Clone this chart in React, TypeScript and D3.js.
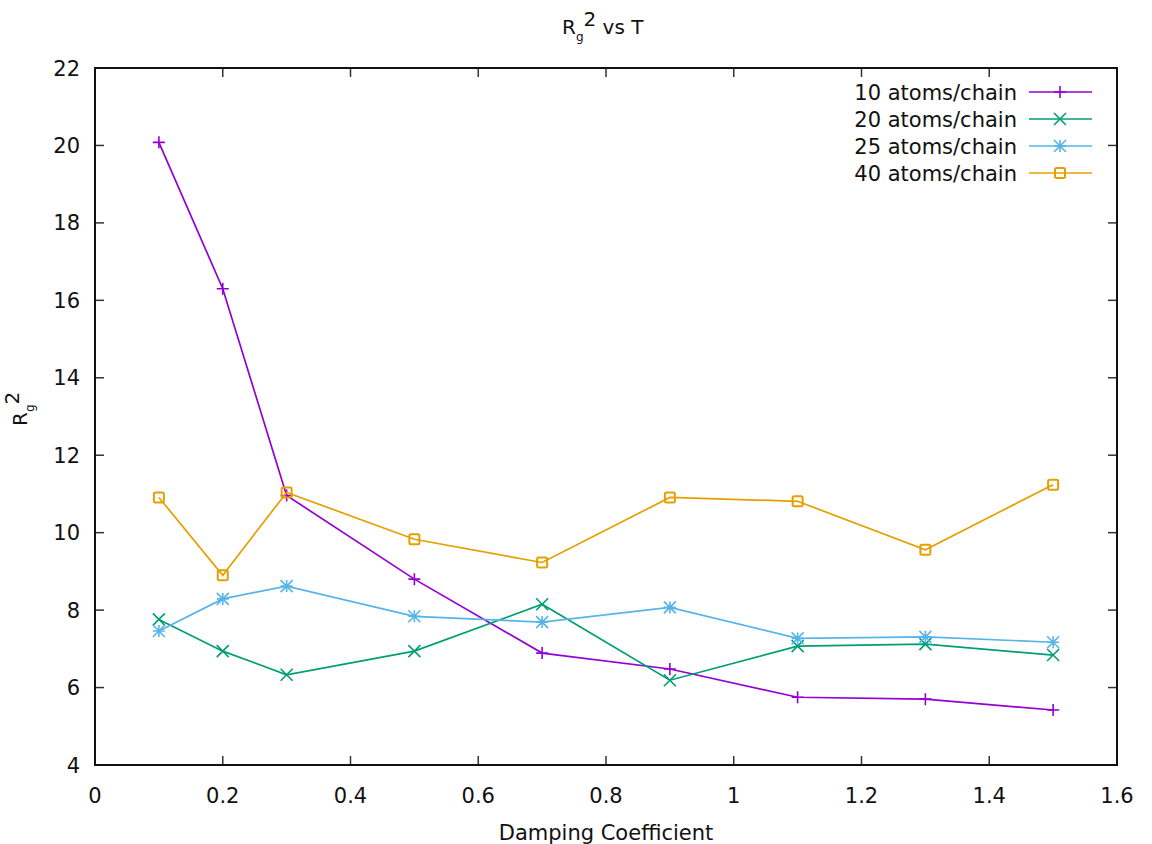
import React from "react";
import * as d3 from "d3";

const xValues = [0.1, 0.2, 0.3, 0.5, 0.7, 0.9, 1.1, 1.3, 1.5];
const series10 = [20.08, 16.3, 10.96, 8.8, 6.89, 6.48, 5.75, 5.7, 5.42];
const series20 = [7.76, 6.94, 6.33, 6.94, 8.15, 6.19, 7.07, 7.12, 6.84];
const series25 = [7.46, 8.29, 8.62, 7.84, 7.69, 8.07, 7.27, 7.31, 7.17];
const series40 = [10.91, 8.9, 11.04, 9.83, 9.23, 10.91, 10.81, 9.56, 11.24];
const seriesNames = ["10 atoms/chain", "20 atoms/chain", "25 atoms/chain", "40 atoms/chain"];
const seriesColors = ["#9400d3", "#009e73", "#56b4e9", "#e69f00"];
const xTicks = [0, 0.2, 0.4, 0.6, 0.8, 1, 1.2, 1.4, 1.6];
const yTicks = [4, 6, 8, 10, 12, 14, 16, 18, 20, 22];

const W = 1152, H = 844;
const L = 95, R = 1117, T = 68, B = 765;
const FONT = "DejaVu Sans, sans-serif";
const FS = 21;

function Marker({ kind, x, y, color }: { kind: number; x: number; y: number; color: string }) {
  const s = 6;
  const sw = 1.6;
  if (kind === 0) {
    return <path d={`M${x - s},${y}H${x + s}M${x},${y - s}V${y + s}`} stroke={color} strokeWidth={sw} fill="none" />;
  }
  if (kind === 1) {
    return <path d={`M${x - s},${y - s}L${x + s},${y + s}M${x - s},${y + s}L${x + s},${y - s}`} stroke={color} strokeWidth={sw} fill="none" />;
  }
  if (kind === 2) {
    return <path d={`M${x - s},${y}H${x + s}M${x},${y - s}V${y + s}M${x - s},${y - s}L${x + s},${y + s}M${x - s},${y + s}L${x + s},${y - s}`} stroke={color} strokeWidth={sw} fill="none" />;
  }
  return <rect x={x - 5} y={y - 5} width={10} height={10} rx={1.5} stroke={color} strokeWidth={2} fill="none" />;
}

export default function App() {
  const x = d3.scaleLinear().domain([0, 1.6]).range([L, R]);
  const y = d3.scaleLinear().domain([4, 22]).range([B, T]);
  const all = [series10, series20, series25, series40];
  const line = d3.line<number>().x((_, i) => x(xValues[i])).y((d) => y(d));
  const tickLen = 9;
  return (
    <svg width={W} height={H} style={{ position: "absolute", left: 0, top: 0, background: "#fff" }} fontFamily={FONT}>
      <rect x={0} y={0} width={W} height={H} fill="#fff" />
      {xTicks.map((t) => (
        <g key={"x" + t}>
          <line x1={x(t)} x2={x(t)} y1={B} y2={B - tickLen} stroke="#333" strokeWidth={1.5} />
          <line x1={x(t)} x2={x(t)} y1={T} y2={T + tickLen} stroke="#333" strokeWidth={1.5} />
          <text x={x(t)} y={803} textAnchor="middle" fontSize={FS} fill="#111">{String(t)}</text>
        </g>
      ))}
      {yTicks.map((t) => (
        <g key={"y" + t}>
          <line x1={L} x2={L + tickLen} y1={y(t)} y2={y(t)} stroke="#333" strokeWidth={1.5} />
          <line x1={R} x2={R - tickLen} y1={y(t)} y2={y(t)} stroke="#333" strokeWidth={1.5} />
          <text x={80} y={y(t) + 7.5} textAnchor="end" fontSize={FS} fill="#111">{String(t)}</text>
        </g>
      ))}
      {all.map((s, k) => (
        <g key={"s" + k}>
          <path d={line(s) || ""} stroke={seriesColors[k]} strokeWidth={1.7} fill="none" />
          {s.map((v, i) => (
            <Marker key={i} kind={k} x={x(xValues[i])} y={y(v)} color={seriesColors[k]} />
          ))}
        </g>
      ))}
      {seriesNames.map((n, k) => {
        const ly = 92 + k * 27;
        return (
          <g key={"l" + k}>
            <text x={1017} y={ly + 7.5} textAnchor="end" fontSize={FS} fill="#111">{n}</text>
            <line x1={1029} x2={1092} y1={ly} y2={ly} stroke={seriesColors[k]} strokeWidth={1.7} />
            <Marker kind={k} x={1060} y={ly} color={seriesColors[k]} />
          </g>
        );
      })}
      <rect x={L} y={T} width={R - L} height={B - T} fill="none" stroke="#111" strokeWidth={2} />
      <text x={562} y={34} fontSize={20} fill="#111">
        R
        <tspan fontSize={12} dy={7}>g</tspan>
        <tspan fontSize={20} dy={-15}>2</tspan>
        <tspan dy={8}> vs T</tspan>
      </text>
      <text transform="translate(27,426) rotate(-90)" fontSize={20} fill="#111">
        R
        <tspan fontSize={12} dy={7}>g</tspan>
        <tspan fontSize={20} dy={-15}>2</tspan>
      </text>
      <text x={(L + R) / 2} y={840} textAnchor="middle" fontSize={FS} fill="#111">Damping Coefficient</text>
    </svg>
  );
}
